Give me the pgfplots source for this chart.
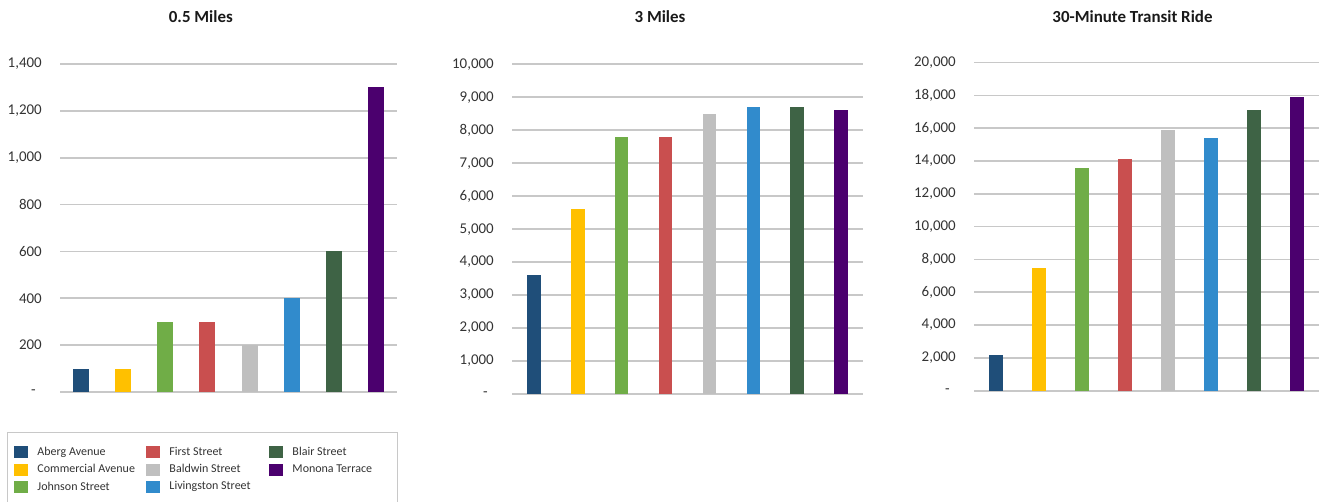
\documentclass[border=0pt]{standalone}
\usepackage{fontspec}
\setmainfont{Carlito}
\usepackage{pgfplots}
\pgfplotsset{compat=1.18}
\definecolor{cAberg}{HTML}{1F4E79}
\definecolor{cComm}{HTML}{FFC000}
\definecolor{cJohn}{HTML}{70AD47}
\definecolor{cFirst}{HTML}{C94F4F}
\definecolor{cBald}{HTML}{BFBFBF}
\definecolor{cLiv}{HTML}{318BCC}
\definecolor{cBlair}{HTML}{3E6345}
\definecolor{cMon}{HTML}{4B006E}
\definecolor{gridc}{HTML}{C8C8C8}
\definecolor{txt}{HTML}{333333}
\pgfplotsset{
  panel/.style={
    scale only axis, anchor=south west, xmin=-0.5, xmax=7.5, ymin=0,
    enlarge x limits=false, enlarge y limits=false,
    scaled y ticks=false,
    axis lines*=left, y axis line style={draw=none},
    x axis line style={draw=gridc, line width=1.5pt},
    xtick=\empty, major tick length=0pt,
    ymajorgrids, grid style={draw=gridc, line width=1.2pt},
    yticklabel style={font=\fontsize{11.2}{13}\selectfont, text=txt, anchor=east, inner sep=0pt, xshift=-13.5pt},
    title style={font=\bfseries\fontsize{12.7}{15}\selectfont, text=black!90, anchor=center},
  },
  bb/.style={ybar, bar shift=0pt, draw=none, fill=#1},
}
\begin{document}
\begin{tikzpicture}
\useasboundingbox (0,0) rectangle (990pt,376.5pt);
% Panel 1
\begin{axis}[panel, at={(45pt,82.5pt)}, width=252.75pt, height=246pt,
  ymax=1400, ytick={0,200,400,600,800,1000,1200,1400},
  yticklabels={{-\hspace*{4.5pt}},200,400,600,800,{1,000},{1,200},{1,400}},
  bar width=0.38,
  title={0.5 Miles}, title style={at={(axis description cs:0.418,1)}, yshift=29.5pt},
  legend columns=3,
  legend style={at={(axis description cs:-0.1573,-0.122)}, anchor=north west,
    draw=gridc, line width=0.75pt, inner xsep=5.25pt, inner ysep=8.25pt,
    column sep=0pt, row sep=0pt, font=\fontsize{9}{11}\selectfont, text=txt,
    cells={anchor=west}, nodes={inner sep=0pt, minimum height=13pt, anchor=west}},
  legend image code/.code={\fill[#1, draw=none] (0pt,-4.5pt) rectangle (10.5pt,4.5pt);},
]
\addplot[bb=cAberg] coordinates {(0,100)};
\addlegendentry{\hspace*{6.75pt}\makebox[81.75pt][l]{Aberg Avenue}}
\addplot[bb=cFirst] coordinates {(3,300)};
\addlegendentry{\hspace*{6.75pt}\makebox[75pt][l]{First Street}}
\addplot[bb=cBlair] coordinates {(6,600)};
\addlegendentry{\hspace*{6.75pt}\makebox[73.5pt][l]{Blair Street}}
\addplot[bb=cComm] coordinates {(1,100)};
\addlegendentry{\hspace*{6.75pt}\makebox[81.75pt][l]{Commercial Avenue}}
\addplot[bb=cBald] coordinates {(4,200)};
\addlegendentry{\hspace*{6.75pt}\makebox[75pt][l]{Baldwin Street}}
\addplot[bb=cMon] coordinates {(7,1300)};
\addlegendentry{\hspace*{6.75pt}\makebox[73.5pt][l]{Monona Terrace}}
\addplot[bb=cJohn] coordinates {(2,300)};
\addlegendentry{\hspace*{6.75pt}\makebox[81.75pt][l]{Johnson Street}}
\addplot[bb=cLiv] coordinates {(5,400)};
\addlegendentry{\hspace*{6.75pt}\makebox[75pt][l]{Livingston Street}}
\end{axis}
% Panel 2
\begin{axis}[panel, at={(384pt,81pt)}, width=263.25pt, height=247.3pt,
  ymax=10000, ytick={0,1000,2000,3000,4000,5000,6000,7000,8000,9000,10000},
  yticklabels={{-\hspace*{4.5pt}},{1,000},{2,000},{3,000},{4,000},{5,000},{6,000},{7,000},{8,000},{9,000},{10,000}},
  bar width=0.31,
  title={3 Miles}, title style={at={(axis description cs:0.4217,1)}, yshift=29.5pt},
]
\addplot[bb=cAberg] coordinates {(0,3600)};
\addplot[bb=cComm] coordinates {(1,5600)};
\addplot[bb=cJohn] coordinates {(2,7800)};
\addplot[bb=cFirst] coordinates {(3,7800)};
\addplot[bb=cBald] coordinates {(4,8500)};
\addplot[bb=cLiv] coordinates {(5,8700)};
\addplot[bb=cBlair] coordinates {(6,8700)};
\addplot[bb=cMon] coordinates {(7,8600)};
\end{axis}
% Panel 3
\begin{axis}[panel, at={(730.5pt,83.5pt)}, width=258.4pt, height=246pt,
  ymax=20000, ytick={0,2000,4000,6000,8000,10000,12000,14000,16000,18000,20000},
  yticklabels={{-\hspace*{4.5pt}},{2,000},{4,000},{6,000},{8,000},{10,000},{12,000},{14,000},{16,000},{18,000},{20,000}},
  bar width=0.325,
  title={30-Minute Transit Ride}, title style={at={(axis description cs:0.46,1)}, yshift=28.5pt},
]
\addplot[bb=cAberg] coordinates {(0,2200)};
\addplot[bb=cComm] coordinates {(1,7500)};
\addplot[bb=cJohn] coordinates {(2,13600)};
\addplot[bb=cFirst] coordinates {(3,14100)};
\addplot[bb=cBald] coordinates {(4,15900)};
\addplot[bb=cLiv] coordinates {(5,15400)};
\addplot[bb=cBlair] coordinates {(6,17100)};
\addplot[bb=cMon] coordinates {(7,17900)};
\end{axis}
\end{tikzpicture}
\end{document}
